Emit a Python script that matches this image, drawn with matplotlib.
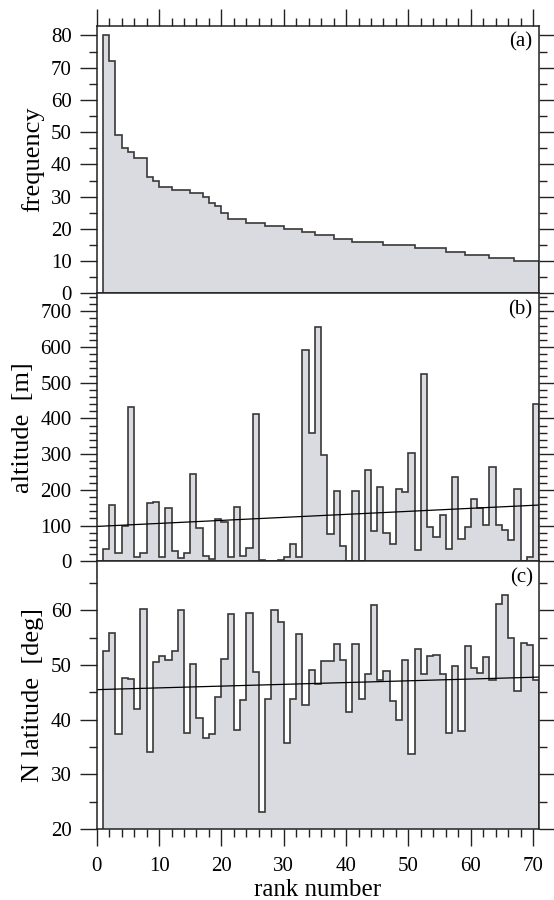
import numpy as np
import matplotlib
matplotlib.use("Agg")
import matplotlib.pyplot as plt
from matplotlib.ticker import MultipleLocator

plt.rcParams['font.family'] = ['Liberation Serif', 'DejaVu Serif']

# rank 1..70, each bar spans [rank, rank+1]
ranks = np.arange(1, 71)

frequency = [80, 72, 49, 45, 44, 42, 42, 36, 35, 33,
             33, 32, 32, 32, 31, 31, 30, 28, 27, 25,
             23, 23, 23, 22, 22, 22, 21, 21, 21, 20,
             20, 20, 19, 19, 18, 18, 18, 17, 17, 17,
             16, 16, 16, 16, 16, 15, 15, 15, 15, 15,
             14, 14, 14, 14, 14, 13, 13, 13, 12, 12,
             12, 12, 11, 11, 11, 11, 10, 10, 10, 10]

altitude = [35, 158, 22, 100, 433, 11, 23, 163, 167, 13,
            149, 30, 10, 23, 243, 94, 14, 7, 119, 109,
            13, 152, 15, 37, 413, 4, 2, 2, 4, 11,
            49, 11, 592, 358, 656, 297, 75, 197, 42, 2,
            197, 2, 255, 86, 208, 78, 47, 203, 193, 302,
            32, 524, 95, 68, 129, 33, 235, 62, 95, 175,
            148, 102, 264, 102, 88, 60, 202, 2, 11, 441]

latitude = [52.6, 55.8, 37.3, 47.6, 47.4, 41.9, 60.2, 34.0, 50.5, 51.6,
            51.0, 52.5, 60.0, 37.6, 50.2, 40.4, 36.7, 37.4, 44.1, 51.1,
            59.4, 38.1, 43.6, 59.5, 48.8, 23.1, 43.7, 60.0, 57.8, 35.7,
            43.7, 55.6, 42.7, 49.1, 46.6, 50.8, 50.8, 53.9, 51.0, 41.5,
            53.9, 43.8, 48.4, 61.0, 47.2, 48.9, 43.5, 39.9, 51.0, 33.8,
            53.0, 48.3, 51.6, 51.8, 48.3, 37.6, 49.9, 38.0, 53.4, 49.5,
            48.5, 51.5, 47.2, 61.1, 62.8, 55.0, 45.2, 54.1, 53.7, 47.2]

# trend lines: (value at rank 0, change per rank)
altitude_trend = [97.5, 0.845]
latitude_trend = [45.5, 0.0324]

panel_labels = ['(a)', '(b)', '(c)']
y_labels = ['frequency', 'altitude  [m]', 'N latitude  [deg]']

fill_col = '#dadbe0'
edge_col = '#383838'

fig = plt.figure(figsize=(5.54, 9.0), dpi=100)
left, width = 0.1746, 0.7989
bottom, h = 0.0789, 0.2975
ax_a = fig.add_axes([left, bottom + 2 * h, width, h])
ax_b = fig.add_axes([left, bottom + h, width, h])
ax_c = fig.add_axes([left, bottom, width, h])

edges = np.append(ranks, ranks[-1] + 1)

settings = [
    (ax_a, frequency, 0, (0, 83), 10, 5, None),
    (ax_b, altitude, 0, (0, 750), 100, 20, altitude_trend),
    (ax_c, latitude, 20, (20, 69), 10, 5, latitude_trend),
]

for i, (ax, vals, base, ylim, ymaj, ymin_, trend) in enumerate(settings):
    ax.stairs(vals, edges, baseline=base, fill=True, facecolor=fill_col,
              edgecolor=edge_col, linewidth=1.2, zorder=2)
    if trend is not None:
        xx = np.array([0, 71])
        ax.plot(xx, trend[0] + trend[1] * xx, color='black', linewidth=0.9, zorder=3)
    ax.set_xlim(0, 71)
    ax.set_ylim(*ylim)
    ax.xaxis.set_major_locator(MultipleLocator(10))
    ax.xaxis.set_minor_locator(MultipleLocator(2))
    ax.yaxis.set_major_locator(MultipleLocator(ymaj))
    ax.yaxis.set_minor_locator(MultipleLocator(ymin_))
    ax.tick_params(which='both', direction='out', right=True, top=(i == 0),
                   labelsize=15, width=1.0, color='#222222')
    ax.tick_params(which='major', length=12, pad=6)
    ax.tick_params(which='minor', length=6)
    ax.tick_params(axis='x', pad=8)
    for s in ax.spines.values():
        s.set_linewidth(1.1)
        s.set_color('#222222')
        s.set_zorder(5)
    if i < 2:
        ax.tick_params(axis='x', labelbottom=False)
    ax.set_ylabel(y_labels[i], fontsize=19, labelpad=5)
    ax.text(0.985, 0.975, panel_labels[i], transform=ax.transAxes,
            ha='right', va='top', fontsize=15)

ax_c.set_xlabel('rank number', fontsize=18, labelpad=2)

fig.savefig('out.png', dpi=100)
